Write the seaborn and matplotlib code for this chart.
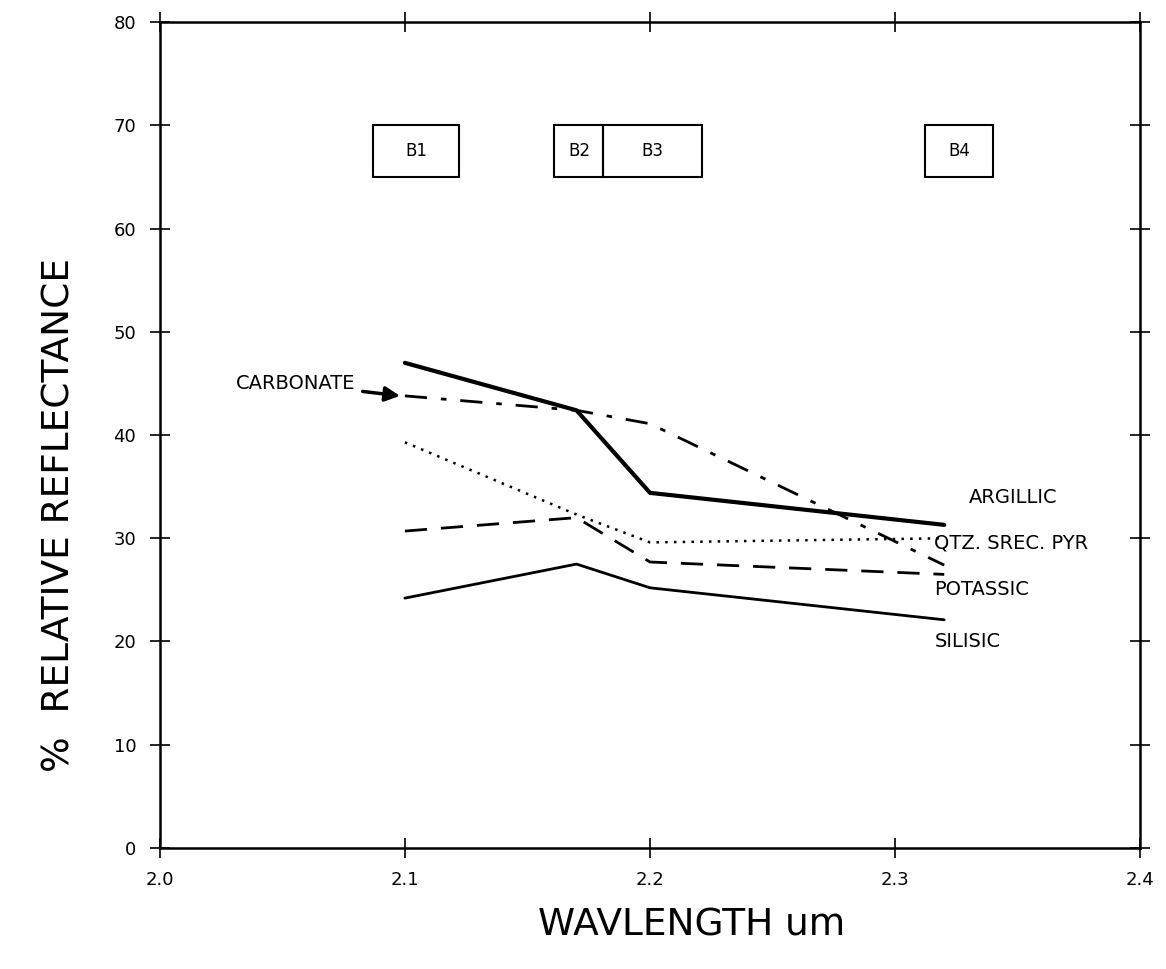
import matplotlib
matplotlib.use("Agg")
import matplotlib.pyplot as plt
import matplotlib.patches as mpatches
import numpy as np
import pandas as pd
import seaborn as sns

# wavelengths of the four bands (um)
wavelength = [2.10, 2.17, 2.20, 2.32]

argillic = [47.0, 42.4, 34.4, 31.3]
carbonate = [43.8, 42.4, 41.1, 27.4]
qtz_srec_pyr = [39.3, 32.3, 29.6, 30.0]
potassic = [30.7, 32.0, 27.7, 26.5]
silisic = [24.2, 27.5, 25.2, 22.1]

series_names = ["ARGILLIC", "CARBONATE", "QTZ. SREC. PYR", "POTASSIC", "SILISIC"]
series_values = [argillic, carbonate, qtz_srec_pyr, potassic, silisic]

# band boxes: label, x start, x end
band_labels = ["B1", "B2", "B3", "B4"]
band_start = [2.087, 2.161, 2.181, 2.312]
band_end = [2.122, 2.181, 2.221, 2.340]
band_low, band_high = 65.0, 70.0

x_ticks = [2.0, 2.1, 2.2, 2.3, 2.4]
x_ticklabels = ["2.0", "2.1", "2.2", "2.3", "2.4"]
y_ticks = [0, 10, 20, 30, 40, 50, 60, 70, 80]

rows = []
for name, vals in zip(series_names, series_values):
    for x, y in zip(wavelength, vals):
        rows.append({"wavelength": x, "reflectance": y, "zone": name})
df = pd.DataFrame(rows)

sns.set_style("white")
plt.rcParams["font.family"] = ["DejaVu Sans"]
plt.rcParams["text.color"] = "black"
plt.rcParams["xtick.color"] = "black"
plt.rcParams["ytick.color"] = "black"

fig = plt.figure(figsize=(11.66, 9.69), dpi=100)
ax = fig.add_axes([0.137, 0.125, 0.841, 0.852])

styles = {
    "ARGILLIC": dict(linestyle="-", linewidth=3.0),
    "CARBONATE": dict(linestyle=(0, (8, 5, 2, 5)), linewidth=2.0),
    "QTZ. SREC. PYR": dict(linestyle=(0, (1, 2.5)), linewidth=1.8),
    "POTASSIC": dict(linestyle=(0, (8, 5)), linewidth=2.0),
    "SILISIC": dict(linestyle="-", linewidth=2.0),
}
for name in series_names:
    sns.lineplot(data=df[df["zone"] == name], x="wavelength", y="reflectance",
                 color="black", ax=ax, legend=False, **styles[name])

# band boxes
for lab, x0, x1 in zip(band_labels, band_start, band_end):
    ax.add_patch(mpatches.Rectangle((x0, band_low), x1 - x0, band_high - band_low,
                                    fill=False, edgecolor="black", linewidth=1.5))
    ax.text((x0 + x1) / 2, (band_low + band_high) / 2, lab, ha="center", va="center",
            fontsize=12)

# zone labels on the right
ax.text(2.330, 34.0, "ARGILLIC", fontsize=14, va="center")
ax.text(2.316, 29.5, "QTZ. SREC. PYR", fontsize=14, va="center")
ax.text(2.316, 25.0, "POTASSIC", fontsize=14, va="center")
ax.text(2.316, 20.0, "SILISIC", fontsize=14, va="center")
ax.annotate("CARBONATE", xy=(2.098, 43.8), xytext=(2.031, 45.0), fontsize=14,
            va="center",
            arrowprops=dict(arrowstyle="-|>", color="black", lw=2.5,
                            mutation_scale=22, shrinkA=3, shrinkB=0))

ax.set_xlim(2.0, 2.4)
ax.set_ylim(0, 80)
ax.set_xticks(x_ticks)
ax.set_xticklabels(x_ticklabels)
ax.set_yticks(y_ticks)
ax.tick_params(direction="inout", length=14, width=1.2, labelsize=13,
               top=True, right=True, bottom=True, left=True, pad=10)
for s in ax.spines.values():
    s.set_linewidth(1.8)
    s.set_color("black")
ax.set_xlabel("")
ax.set_ylabel("")

fig.text(692 / 1166, 1 - 925 / 969, "WAVLENGTH um", fontsize=27,
         ha="center", va="center")
fig.text(60 / 1166, 1 - 515 / 969, "%  RELATIVE REFLECTANCE", fontsize=27,
         ha="center", va="center", rotation=90)

fig.savefig("out.png", dpi=100)
